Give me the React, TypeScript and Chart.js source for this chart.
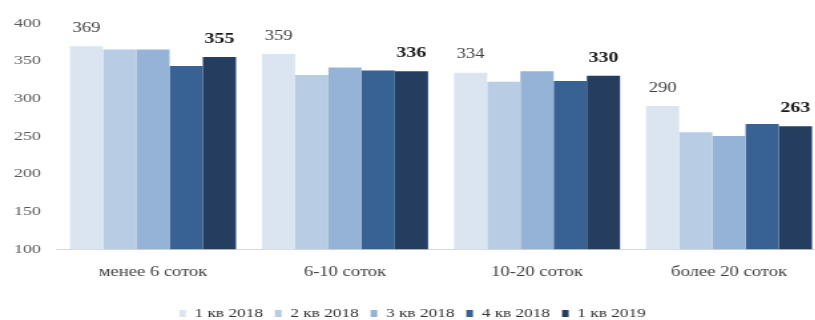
import React, { useEffect, useRef } from "react";
import { Chart, registerables } from "chart.js";

Chart.register(...registerables);

const categories = ["менее 6 соток", "6-10 соток", "10-20 соток", "более 20 соток"];
const seriesNames = ["1 кв 2018", "2 кв 2018", "3 кв 2018", "4 кв 2018", "1 кв 2019"];
const q1_2018 = [369, 359, 334, 290];
const q2_2018 = [365, 331, 322, 255];
const q3_2018 = [365, 341, 336, 250];
const q4_2018 = [343, 337, 323, 266];
const q1_2019 = [355, 336, 330, 263];
const seriesColors = ["#dbe5f1", "#b8cce4", "#95b3d7", "#386194", "#253e5f"];
const yMin = 100;
const yMax = 400;
const yStep = 50;

const SX = 1.33;
const FONT = "'Liberation Serif', 'Times New Roman', serif";

const labelPlugin = {
  id: "barLabels",
  afterDatasetsDraw(chart: any) {
    const ctx = chart.ctx;
    const targets = [
      { ds: 0, bold: false },
      { ds: 4, bold: true },
    ];
    ctx.save();
    ctx.textAlign = "center";
    ctx.textBaseline = "middle";
    targets.forEach((t) => {
      const meta = chart.getDatasetMeta(t.ds);
      const data = chart.data.datasets[t.ds].data;
      meta.data.forEach((bar: any, i: number) => {
        ctx.font = (t.bold ? "bold 15px " : "14px ") + FONT;
        ctx.fillStyle = t.bold ? "#1a1a1a" : "#404040";
        ctx.fillText(String(data[i]), bar.x, bar.y - 18);
      });
    });
    ctx.restore();
  },
};

export default function App() {
  const ref = useRef<HTMLCanvasElement | null>(null);
  useEffect(() => {
    if (!ref.current) return;
    const all = [q1_2018, q2_2018, q3_2018, q4_2018, q1_2019];
    const chart = new Chart(ref.current, {
      type: "bar",
      data: {
        labels: categories,
        datasets: all.map((d, i) => ({
          label: seriesNames[i],
          data: d,
          backgroundColor: seriesColors[i],
          borderWidth: 0,
          barPercentage: 1,
          categoryPercentage: 0.865,
        })),
      },
      options: {
        animation: false,
        responsive: true,
        maintainAspectRatio: false,
        layout: { padding: { top: 23, left: 0, right: 3.7, bottom: -10 } },
        plugins: {
          tooltip: { enabled: false },
          legend: {
            position: "bottom",
            labels: {
              boxWidth: 5,
              boxHeight: 7,
              padding: 9,
              color: "#333333",
              font: { family: FONT, size: 13 },
            },
          },
        },
        scales: {
          x: {
            grid: { display: false, drawTicks: false },
            border: { display: true, color: "#d9d9d9", width: 1 },
            afterFit: (scale: any) => {
              scale.height += 2;
            },
            ticks: {
              color: "#404040",
              padding: 15,
              font: { family: FONT, size: 14 },
            },
          },
          y: {
            min: yMin,
            max: yMax,
            grid: { display: false, drawTicks: false },
            border: { display: false },
            afterFit: (scale: any) => {
              scale.width = 57 / SX;
            },
            ticks: {
              stepSize: yStep,
              color: "#595959",
              padding: 12,
              font: { family: FONT, size: 13.5 },
            },
          },
        },
      },
      plugins: [labelPlugin],
    });
    return () => chart.destroy();
  }, []);

  return (
    <div
      style={{
        position: "absolute",
        left: 0,
        top: 0,
        width: 815,
        height: 320,
        overflow: "hidden",
        background: "#ffffff",
      }}
    >
      <div
        style={{
          position: "relative",
          width: 624,
          height: 320,
          transform: `scaleX(${SX})`,
          transformOrigin: "0 0",
        }}
      >
        <canvas ref={ref} />
      </div>
    </div>
  );
}
